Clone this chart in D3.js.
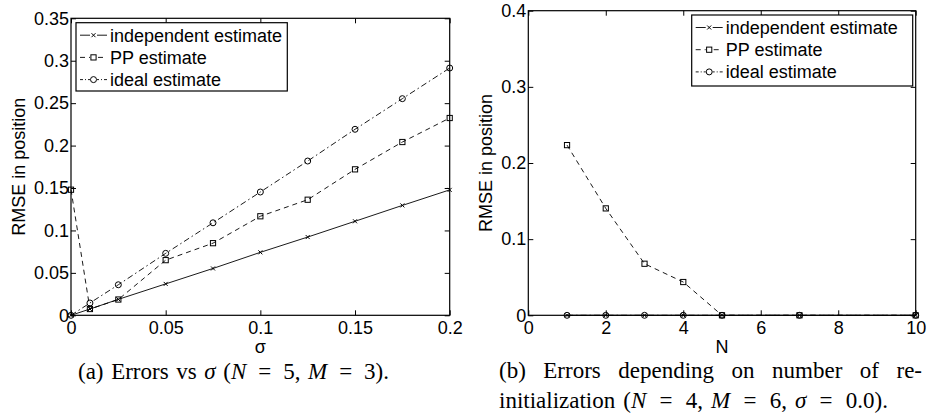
<!DOCTYPE html>
<html>
<head>
<meta charset="utf-8">
<script src="https://cdn.jsdelivr.net/npm/d3@7"></script>
<style>
  html, body { margin: 0; padding: 0; background: #fff; }
  svg { display: block; }
  .tick text { font-family: "Liberation Sans", Arial, sans-serif; font-size: 18px; fill: #000; }
  .caption { font-family: "Liberation Serif", "Times New Roman", serif; font-size: 23px; fill: #000; }
</style>
</head>
<body>
<svg id="chart" width="927" height="414"></svg>
<script>
// left panel: error vs sigma
const sigma = [0, 0.01, 0.025, 0.05, 0.075, 0.1, 0.125, 0.15, 0.175, 0.2]
const sigmaIndep = [0, 0.0074, 0.0188, 0.037, 0.0552, 0.0742, 0.0922, 0.1108, 0.1295, 0.1478]
const sigmaPP = [0.148, 0.0074, 0.0186, 0.065, 0.085, 0.1167, 0.1362, 0.172, 0.2042, 0.2325]
const sigmaIdeal = [0, 0.0145, 0.036, 0.073, 0.109, 0.1453, 0.1818, 0.2192, 0.2553, 0.2914]
const sigmaXTicks = [0, 0.05, 0.1, 0.15, 0.2]
const sigmaYTicks = [0, 0.05, 0.1, 0.15, 0.2, 0.25, 0.3, 0.35]

// right panel: error vs number of re-initialization
const reinit = [1, 2, 3, 4, 5, 7, 10]
const reinitIndep = [0, 0, 0, 0, 0, 0, 0]
const reinitPP = [0.2235, 0.1404, 0.0677, 0.0437, 0, 0, 0]
const reinitIdeal = [0, 0, 0, 0, 0, 0, 0]
const reinitXTicks = [0, 2, 4, 6, 8, 10]
const reinitYTicks = [0, 0.1, 0.2, 0.3, 0.4]

const seriesNames = ["independent estimate", "PP estimate", "ideal estimate"]

const svg = d3.select('#chart')

const styles = [
  {dash: null, marker: 'x'},
  {dash: '5,4', marker: 'square'},
  {dash: '6,3,1.5,3', marker: 'circle'}
]

function drawMarker(sel, type) {
  if (type === 'x') {
    sel.append('path').attr('d', 'M-2,-2L2,2M-2,2L2,-2')
      .attr('stroke', '#000').attr('stroke-width', 1).attr('fill', 'none')
  } else if (type === 'square') {
    sel.append('rect').attr('x', -2.6).attr('y', -2.6).attr('width', 5.2).attr('height', 5.2)
      .attr('stroke', '#000').attr('stroke-width', 1).attr('fill', 'none')
  } else {
    sel.append('circle').attr('r', 3)
      .attr('stroke', '#000').attr('stroke-width', 1).attr('fill', 'none')
  }
}

const fmt = d => String(+d.toFixed(2))

function panel(cfg) {
  const x = d3.scaleLinear().domain(cfg.xDomain).range([cfg.left, cfg.right])
  const y = d3.scaleLinear().domain(cfg.yDomain).range([cfg.bottom, cfg.top])
  const g = svg.append('g')

  g.append('g').attr('transform', `translate(0,${cfg.bottom})`)
    .call(d3.axisBottom(x).tickValues(cfg.xTicks).tickFormat(fmt).tickSize(-5).tickSizeOuter(0).tickPadding(6))
  g.append('g').attr('transform', `translate(0,${cfg.top})`)
    .call(d3.axisTop(x).tickValues(cfg.xTicks).tickFormat('').tickSize(-5).tickSizeOuter(0))
  g.append('g').attr('transform', `translate(${cfg.left},0)`)
    .call(d3.axisLeft(y).tickValues(cfg.yTicks).tickFormat(fmt).tickSize(-5).tickSizeOuter(0).tickPadding(2))
  g.append('g').attr('transform', `translate(${cfg.right},0)`)
    .call(d3.axisRight(y).tickValues(cfg.yTicks).tickFormat('').tickSize(-5).tickSizeOuter(0))
  g.selectAll('.domain').remove()
  g.selectAll('.tick line').attr('stroke', '#000')

  g.append('rect')
    .attr('x', cfg.left).attr('y', cfg.top)
    .attr('width', cfg.right - cfg.left).attr('height', cfg.bottom - cfg.top)
    .attr('fill', 'none').attr('stroke', '#000').attr('stroke-width', 1.2)

  const line = d3.line().x(d => x(d[0])).y(d => y(d[1]))
  cfg.series.forEach((vals, i) => {
    const pts = cfg.xs.map((v, j) => [v, vals[j]])
    g.append('path').datum(pts)
      .attr('d', line)
      .attr('fill', 'none').attr('stroke', '#000').attr('stroke-width', 0.9)
      .attr('stroke-dasharray', styles[i].dash)
    g.append('g').selectAll('g')
      .data(pts)
      .join('g')
      .attr('transform', d => `translate(${x(d[0])},${y(d[1])})`)
      .each(function () { drawMarker(d3.select(this), styles[i].marker) })
  })

  // axis titles
  g.append('text')
    .attr('transform', `translate(${cfg.yTitleX},${(cfg.top + cfg.bottom) / 2}) rotate(-90)`)
    .attr('text-anchor', 'middle')
    .style('font-family', '"Liberation Sans", Arial, sans-serif').style('font-size', '18px')
    .text('RMSE in position')
  g.append('text')
    .attr('x', (cfg.left + cfg.right) / 2).attr('y', cfg.xTitleY)
    .attr('text-anchor', 'middle')
    .style('font-family', '"Liberation Sans", Arial, sans-serif').style('font-size', '18px')
    .text(cfg.xTitle)

  // legend
  const lg = g.append('g').attr('transform', `translate(${cfg.legend.x},${cfg.legend.y})`)
  lg.append('rect').attr('width', cfg.legend.w).attr('height', cfg.legend.h)
    .attr('fill', '#fff').attr('stroke', '#000').attr('stroke-width', 1.2)
  seriesNames.forEach((name, i) => {
    const cy = 12.5 + i * 22.2
    lg.append('line').attr('x1', 4).attr('x2', 31).attr('y1', cy).attr('y2', cy)
      .attr('stroke', '#000').attr('stroke-width', 0.9)
      .attr('stroke-dasharray', styles[i].dash ? (i === 1 ? '5,4' : '3,2,1,2') : null)
    const m = lg.append('g').attr('transform', `translate(17.5,${cy})`)
    m.append('rect').attr('x', -3.5).attr('y', -3.5).attr('width', 7).attr('height', 7).attr('fill', '#fff')
    drawMarker(m, styles[i].marker)
    lg.append('text').attr('x', 34).attr('y', cy).attr('dy', '0.36em')
      .style('font-family', '"Liberation Sans", Arial, sans-serif').style('font-size', '18px')
      .text(name)
  })
}

panel({
  xDomain: [0, 0.2], yDomain: [0, 0.35],
  left: 71, right: 449.7, top: 18.3, bottom: 315.3,
  xTicks: sigmaXTicks, yTicks: sigmaYTicks,
  xs: sigma, series: [sigmaIndep, sigmaPP, sigmaIdeal],
  xTitle: 'σ', xTitleY: 353, yTitleX: 25,
  legend: {x: 76, y: 22.7, w: 211.3, h: 68.3}
})

panel({
  xDomain: [0, 10], yDomain: [0, 0.4],
  left: 528.3, right: 915.7, top: 10.7, bottom: 315.3,
  xTicks: reinitXTicks, yTicks: reinitYTicks,
  xs: reinit, series: [reinitIndep, reinitPP, reinitIdeal],
  xTitle: 'N', xTitleY: 353, yTitleX: 492,
  legend: {x: 691.7, y: 15, w: 221, h: 71}
})

// captions: parts are [text, italic, weight]; spaces grow by their part's weight
function caption(parts, xPos, yPos, width) {
  const t = svg.append('text').attr('class', 'caption')
    .attr('x', xPos).attr('y', yPos)
  const spans = parts.map(p =>
    t.append('tspan').style('font-style', p[1] ? 'italic' : 'normal').text(p[0]))
  const w = p => p[2] === undefined ? 0.3 : p[2]
  const total = d3.sum(parts, p => w(p) * (p[0].match(/ /g) || []).length)
  const extra = Math.max(0, (width - t.node().getComputedTextLength()) / total)
  spans.forEach((s, i) => s.attr('word-spacing', extra * w(parts[i])))
  return t
}

caption([['(a) Errors vs '], ['σ', 1], [' ('], ['N', 1], [' = ', 0, 1], ['5, '], ['M', 1], [' = ', 0, 1], ['3).']], 78, 379, 311)
caption([['(b) Errors depending on number of re-', 0, 1]], 499, 378, 423)
caption([['initialization ('], ['N', 1], [' = ', 0, 1], ['4, '], ['M', 1], [' = ', 0, 1], ['6, '], ['σ', 1], [' = ', 0, 1], ['0.0).']], 499, 408, 389)
</script>
</body>
</html>
